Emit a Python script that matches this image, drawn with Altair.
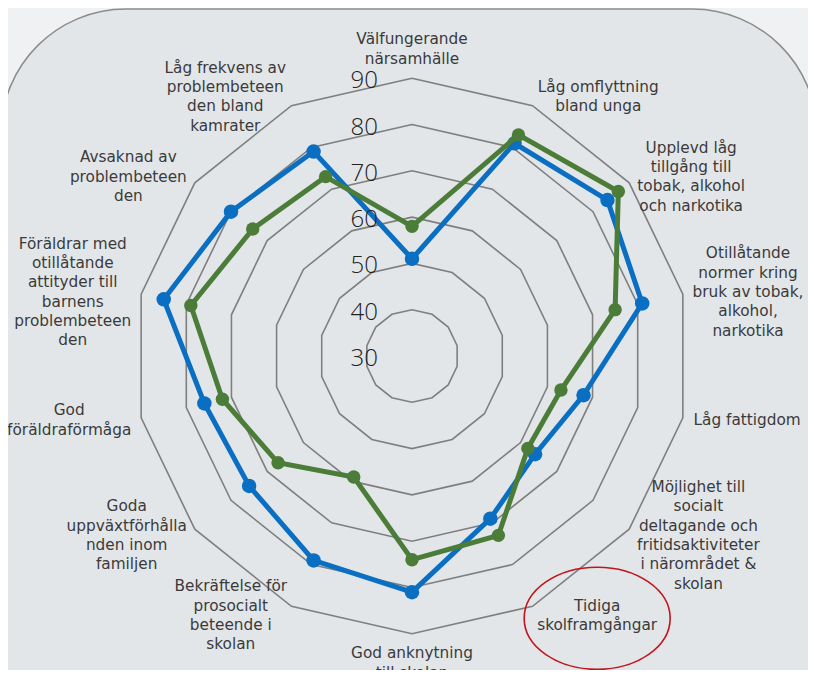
import math
import altair as alt
import pandas as pd

# ---------------- data ----------------
categories = [
    ["Välfungerande", "närsamhälle"],
    ["Låg omflyttning", "bland unga"],
    ["Upplevd låg", "tillgång till", "tobak, alkohol", "och narkotika"],
    ["Otillåtande", "normer kring", "bruk av tobak,", "alkohol,", "narkotika"],
    ["Låg fattigdom"],
    ["Möjlighet till", "socialt", "deltagande och", "fritidsaktiviteter", "i närområdet &", "skolan"],
    ["Tidiga", "skolframgångar"],
    ["God anknytning", "till skolan"],
    ["Bekräftelse för", "prosocialt", "beteende i", "skolan"],
    ["Goda", "uppväxtförhålla", "nden inom", "familjen"],
    ["God", "föräldraförmåga"],
    ["Föräldrar med", "otillåtande", "attityder till", "barnens", "problembeteen", "den"],
    ["Avsaknad av", "problembeteen", "den"],
    ["Låg frekvens av", "problembeteen", "den bland", "kamrater"],
]
series_names = ["Serie 1", "Serie 2"]
blue_values = [51, 81, 84, 81, 68, 64, 69, 81, 79, 75, 76, 85, 80, 79]
green_values = [58, 83, 87, 75, 63, 62, 73, 74, 59, 67, 72, 79, 74, 73]
tick_values = [30, 40, 50, 60, 70, 80, 90]
highlight_index = 6  # "Tidiga skolframgångar"

# ---------------- layout ----------------
W, H = 800, 662
CX, CY = 404, 348          # centre of the radar in chart pixels
R_PX = 277.8               # radius of the outer ring in pixels
RMIN, RMAX = tick_values[0], tick_values[-1]
PX = R_PX / (RMAX - RMIN)  # pixels per value unit
N = len(categories)
FS = 15.3
LH = 19.3
FONT = "DejaVu Sans"

W_EM = {
    "a": .613, "b": .635, "c": .55, "d": .635, "e": .615, "f": .352, "g": .635,
    "h": .634, "i": .278, "j": .278, "k": .579, "l": .278, "m": .974, "n": .634,
    "o": .612, "p": .635, "q": .635, "r": .411, "s": .521, "t": .392, "u": .634,
    "v": .592, "w": .818, "x": .592, "y": .592, "z": .525, "å": .613, "ä": .613,
    "ö": .612, " ": .318, ",": .318, "&": .78, "-": .361,
}


def text_w(s):
    return sum(W_EM.get(ch, 0.68) for ch in s) * FS


rows = []
for name, vals in zip(series_names, [blue_values, green_values]):
    for i in range(N + 1):
        rows.append({"serie": name, "idx": i, "value": vals[i % N]})
series_df = pd.DataFrame(rows)

ring_rows = []
for t in tick_values[1:]:
    for i in range(N + 1):
        ring_rows.append({"tick": t, "idx": i, "value": t})
ring_df = pd.DataFrame(ring_rows)

tick_df = pd.DataFrame({"tick": tick_values, "label": [str(t) for t in tick_values]})

label_r = (RMAX - RMIN) + 10 / PX
lab_rows = []
for i, lines in enumerate(categories):
    a = 2 * math.pi * i / N
    s, c = math.sin(a), math.cos(a)
    n = len(lines)
    half_w = max(text_w(l) for l in lines) / 2
    half_h = n * LH / 2
    sx = 0 if abs(s) < 1e-6 else (1 if s > 0 else -1)
    sy = (1 if c > 0 else -1) if sx == 0 else 0
    cx = label_r * s + sx * half_w / PX
    cy = label_r * c + sy * half_h / PX
    lab_rows.append({
        "idx": i,
        "text": "\n".join(lines),
        "cx": cx,
        "cy": cy,
        # first line's middle sits above the block centre
        "ly": cy + (n - 1) * LH / 2 / PX,
    })
lab_df = pd.DataFrame(lab_rows)

xs = alt.Scale(domain=[-CX / PX, (W - CX) / PX], nice=False, zero=False)
ys = alt.Scale(domain=[-(H - CY) / PX, CY / PX], nice=False, zero=False)


def polar(chart):
    return chart.transform_calculate(
        ang=f"datum.idx * 2 * PI / {N}",
        r=f"datum.value - {RMIN}",
    ).transform_calculate(
        px="datum.r * sin(datum.ang)",
        py="datum.r * cos(datum.ang)",
    )


frame = alt.Chart(pd.DataFrame({"a": [0]})).mark_rect(
    clip=True, cornerRadius=125, fill="#e3e6e9", stroke="#8c8c8c", strokeWidth=1.5
).encode(x=alt.value(-7), x2=alt.value(809), y=alt.value(1), y2=alt.value(900))

rings = polar(alt.Chart(ring_df)).mark_line(
    color="#7f7f7f", strokeWidth=1.6
).encode(
    x=alt.X("px:Q", scale=xs, axis=None),
    y=alt.Y("py:Q", scale=ys, axis=None),
    detail="tick:N",
    order="idx:Q",
)

colors = {"Serie 1": "#0a6fc2", "Serie 2": "#4b7d39"}
sizes = {"Serie 1": 210, "Serie 2": 180}
layers = [frame, rings]
for name in series_names:
    base = polar(alt.Chart(series_df).transform_filter(f"datum.serie == '{name}'"))
    layers.append(base.mark_line(color=colors[name], strokeWidth=5).encode(
        x=alt.X("px:Q", scale=xs, axis=None),
        y=alt.Y("py:Q", scale=ys, axis=None),
        order="idx:Q",
    ))
    layers.append(base.transform_filter(f"datum.idx < {N}").mark_point(
        filled=True, opacity=1, color=colors[name], size=sizes[name]
    ).encode(
        x=alt.X("px:Q", scale=xs, axis=None),
        y=alt.Y("py:Q", scale=ys, axis=None),
    ))

ticks = alt.Chart(tick_df).transform_calculate(
    tx="0", ty=f"datum.tick - {RMIN}"
).mark_text(
    align="right", baseline="middle", dx=-34, dy=3, fontSize=24, font="Open Sans",
    fontWeight=300, color="#222222"
).encode(
    x=alt.X("tx:Q", scale=xs, axis=None),
    y=alt.Y("ty:Q", scale=ys, axis=None),
    text="label:N",
)

labels = alt.Chart(lab_df).mark_text(
    align="center", baseline="middle", fontSize=FS, font=FONT, lineBreak="\n",
    lineHeight=LH, color="#3a3a3a"
).encode(
    x=alt.X("cx:Q", scale=xs, axis=None),
    y=alt.Y("ly:Q", scale=ys, axis=None),
    text="text:N",
)

ellipse = alt.Chart(lab_df).transform_filter(f"datum.idx == {highlight_index}").mark_point(
    shape="M -1 0 A 1 0.7 0 1 0 1 0 A 1 0.7 0 1 0 -1 0 Z",
    size=146 * 146, filled=False, color="#c0161c", strokeWidth=1.6, opacity=1
).encode(
    x=alt.X("cx:Q", scale=xs, axis=None),
    y=alt.Y("cy:Q", scale=ys, axis=None),
    yOffset=alt.value(3),
)

layers += [ticks, labels, ellipse]

chart = alt.layer(*layers).properties(
    width=W, height=H, padding=0, autosize="none", background="#f0f1f2"
).configure_view(stroke=None)

chart.save("out.html", embed_options={"renderer": "svg", "actions": False})
